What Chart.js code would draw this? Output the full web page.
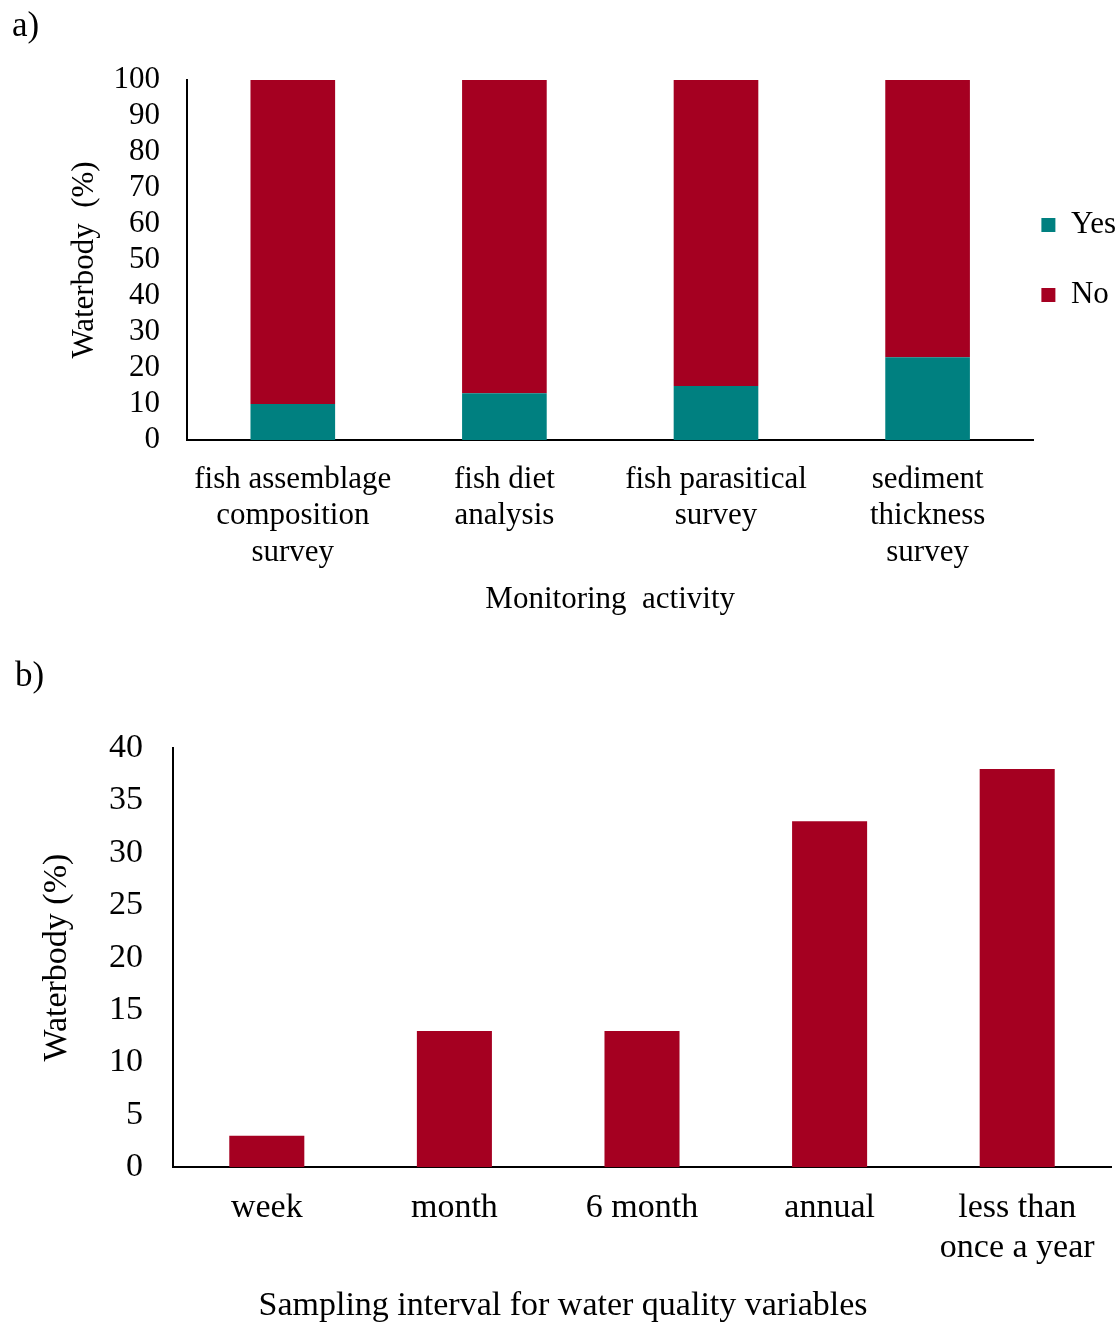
<!DOCTYPE html>
<html>
<head>
<meta charset="utf-8">
<script src="https://cdn.jsdelivr.net/npm/chart.js@4.4.1/dist/chart.umd.min.js"></script>
<style>
  html, body { margin: 0; padding: 0; background: #ffffff; }
  #wrapA { position: absolute; left: 0; top: 0; width: 1120px; height: 640px; }
  #wrapB { position: absolute; left: 0; top: 640px; width: 1120px; height: 683px; }
</style>
</head>
<body>
<div id="wrapA"><canvas id="chartA" width="1120" height="640"></canvas></div>
<div id="wrapB"><canvas id="chartB" width="1120" height="683"></canvas></div>
<script>
// ---- Data: panel a ----
const activityLabels = [
  ["fish assemblage", "composition", "survey"],
  ["fish diet", "analysis"],
  ["fish parasitical", "survey"],
  ["sediment", "thickness", "survey"]
];
const yesValues = [10, 13, 15, 23];
const noValues = [90, 87, 85, 77];
const ticksA = [0, 10, 20, 30, 40, 50, 60, 70, 80, 90, 100];

// ---- Data: panel b ----
const intervalLabels = ["week", "month", "6 month", "annual", ["less than", "once a year"]];
const intervalValues = [3, 13, 13, 33, 38];
const ticksB = [0, 5, 10, 15, 20, 25, 30, 35, 40];

const FONT = "'Liberation Serif', 'Times New Roman', serif";
const RED = '#A50021';
const TEAL = '#008080';

Chart.defaults.font.family = FONT;
Chart.defaults.color = '#000000';

new Chart(document.getElementById('chartA'), {
  type: 'bar',
  data: {
    labels: activityLabels,
    datasets: [
      { label: 'Yes', data: yesValues, backgroundColor: TEAL, categoryPercentage: 1, barPercentage: 0.4 },
      { label: 'No', data: noValues, backgroundColor: RED, categoryPercentage: 1, barPercentage: 0.4 }
    ]
  },
  options: {
    responsive: false,
    animation: false,
    layout: { padding: { left: 12, right: -6, top: 0, bottom: 0 } },
    plugins: {
      title: {
        display: true, text: 'a)', align: 'start', color: '#000',
        font: { size: 35, family: FONT, weight: 'normal', lineHeight: 1.2 },
        padding: { top: 6, bottom: 32 }
      },
      legend: {
        display: true, position: 'right', align: 'center', fullSize: false,
        labels: {
          boxWidth: 14, boxHeight: 14, padding: 8, color: '#000',
          font: { size: 31, family: FONT, lineHeight: 1 },
          generateLabels: (chart) => {
            const items = Chart.defaults.plugins.legend.labels.generateLabels(chart);
            // first entry gets an extra blank line to reproduce the wide spacing between entries
            return items.map((it, i) => Object.assign(it, { text: i < items.length - 1 ? [it.text, ''] : it.text }));
          }
        }
      },
      tooltip: { enabled: false }
    },
    scales: {
      x: {
        stacked: true,
        grid: { display: false, drawTicks: false },
        border: { display: true, color: '#000', width: 2 },
        ticks: { padding: 21, color: '#000', maxRotation: 0, autoSkip: false,
                 font: { size: 31, family: FONT, lineHeight: 1.19 } },
        title: { display: true, text: 'Monitoring  activity', color: '#000',
                 font: { size: 31, family: FONT, lineHeight: 1.2 }, padding: { top: 0, bottom: 22 } },
        afterFit: (s) => { s.height = 200; }
      },
      y: {
        stacked: true, min: 0, max: 100,
        afterBuildTicks: (s) => { s.ticks = ticksA.map(v => ({ value: v })); },
        grid: { display: false, drawTicks: false },
        border: { display: true, color: '#000', width: 2 },
        ticks: { padding: 27, color: '#000', autoSkip: false, font: { size: 31, family: FONT } },
        title: { display: true, text: 'Waterbody  (%)', color: '#000',
                 font: { size: 31, family: FONT, lineHeight: 1.2 }, padding: { top: 54, bottom: 0 } },
        afterFit: (s) => { s.width = 175; }
      }
    }
  }
});

new Chart(document.getElementById('chartB'), {
  type: 'bar',
  data: {
    labels: intervalLabels,
    datasets: [
      { label: 'Waterbody', data: intervalValues, backgroundColor: RED, categoryPercentage: 1, barPercentage: 0.4 }
    ]
  },
  options: {
    responsive: false,
    animation: false,
    layout: { padding: { left: 15, right: 9, top: 0, bottom: 0 } },
    plugins: {
      title: {
        display: true, text: 'b)', align: 'start', color: '#000',
        font: { size: 35, family: FONT, weight: 'normal', lineHeight: 1.2 },
        padding: { top: 16, bottom: 50 }
      },
      subtitle: {
        display: true, position: 'bottom', text: 'Sampling interval for water quality variables', color: '#000',
        font: { size: 34, family: FONT, lineHeight: 1.2 },
        padding: { top: 0, bottom: -3 }
      },
      legend: { display: false },
      tooltip: { enabled: false }
    },
    scales: {
      x: {
        grid: { display: false, drawTicks: false },
        border: { display: true, color: '#000', width: 2 },
        ticks: { padding: 21, color: '#000', maxRotation: 0, autoSkip: false,
                 font: { size: 34, family: FONT, lineHeight: 1.176 } },
        afterFit: (s) => { s.height = 118; }
      },
      y: {
        min: 0, max: 40,
        afterBuildTicks: (s) => { s.ticks = ticksB.map(v => ({ value: v })); },
        grid: { display: false, drawTicks: false },
        border: { display: true, color: '#000', width: 2 },
        ticks: { padding: 30, color: '#000', autoSkip: false, font: { size: 34, family: FONT } },
        title: { display: true, text: 'Waterbody (%)', color: '#000',
                 font: { size: 34, family: FONT, lineHeight: 1.2 }, padding: { top: 22, bottom: 0 } },
        afterFit: (s) => { s.width = 158; }
      }
    }
  }
});
</script>
</body>
</html>
